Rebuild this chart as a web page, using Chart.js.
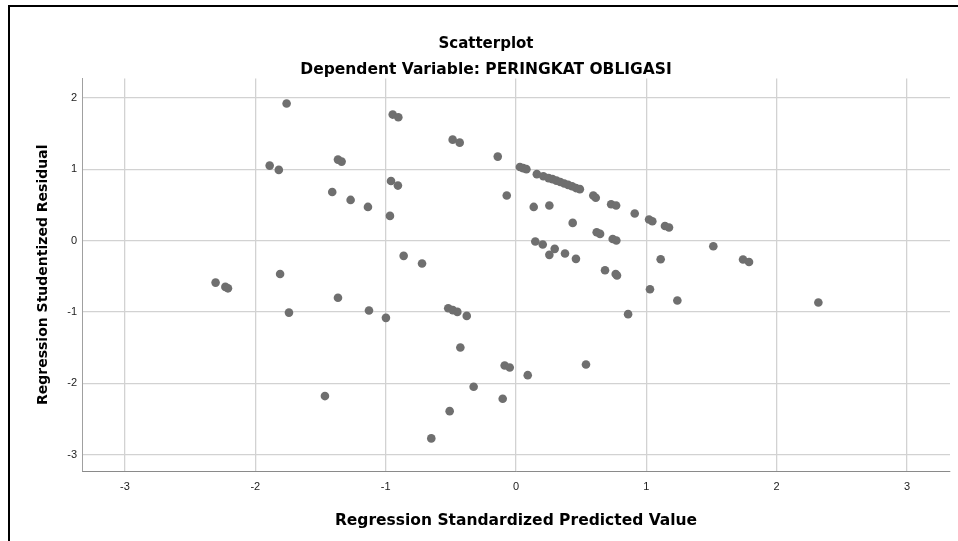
<!DOCTYPE html>
<html>
<head>
<meta charset="utf-8">
<script src="https://cdn.jsdelivr.net/npm/chart.js@4.4.1/dist/chart.umd.min.js"></script>
<style>
  html, body { margin: 0; padding: 0; background: #ffffff; overflow: hidden; }
  #wrap { position: relative; width: 958px; height: 541px; }
</style>
</head>
<body>
<div id="wrap"><canvas id="c" width="958" height="541"></canvas></div>
<script>
// ---- Data ----
const predicted = [
  -1.76, -1.89, -1.82, -1.81, -1.41, -2.305, -2.23, -2.21, -1.742, -1.466,
  -0.946, -0.903, -0.486, -0.432, -0.14, -1.366, -1.338, 0.03, 0.055, 0.08,
  0.16, 0.21, 0.25, 0.28, 0.31, 0.34, 0.37, 0.40, 0.43, 0.46,
  0.49, -0.959, -0.906, -1.269, -1.136, -0.967, -0.071, 0.136, 0.256, 0.435,
  0.593, 0.612, 0.73, 0.768, 0.911, 1.021, 1.046, 1.143, 1.174, 0.619,
  0.645, 0.742, 0.77, 0.148, 0.205, 0.297, 0.256, 0.376, 0.46, 0.683,
  0.765, 0.775, 1.514, 1.742, 1.788, 1.11, 1.028, 1.238, 0.86, 2.32,
  -0.862, -0.721, -1.366, -1.128, -0.998, -0.52, -0.485, -0.45, -0.378, -0.427,
  -0.087, -0.048, 0.09, 0.537, -0.325, -0.102, -0.509, -0.65
];
const residual = [
  1.92, 1.05, 0.99, -0.47, 0.68, -0.59, -0.65, -0.67, -1.01, -2.18,
  1.765, 1.727, 1.414, 1.372, 1.176, 1.134, 1.106, 1.03, 1.015, 1.0,
  0.93, 0.90, 0.875, 0.86, 0.84, 0.82, 0.80, 0.78, 0.76, 0.735,
  0.72, 0.835, 0.77, 0.569, 0.471, 0.345, 0.63, 0.471, 0.49, 0.247,
  0.63, 0.60, 0.508, 0.49, 0.378, 0.294, 0.27, 0.204, 0.182, 0.116,
  0.093, 0.022, 0.0, -0.014, -0.056, -0.117, -0.201, -0.182, -0.257, -0.416,
  -0.47, -0.49, -0.08, -0.266, -0.30, -0.262, -0.682, -0.84, -1.032, -0.869,
  -0.215, -0.322, -0.803, -0.98, -1.084, -0.95, -0.975, -1.0, -1.056, -1.499,
  -1.751, -1.779, -1.887, -1.737, -2.05, -2.218, -2.391, -2.773
];
const xTicks = [-3, -2, -1, 0, 1, 2, 3];
const yTicks = [-3, -2, -1, 0, 1, 2];
const chartTitle = 'Scatterplot';
const chartSubtitle = 'Dependent Variable: PERINGKAT OBLIGASI';
const xTitle = 'Regression Standardized Predicted Value';
const yTitle = 'Regression Studentized Residual';

const points = predicted.map((x, i) => ({ x: x, y: residual[i] }));

const framePlugin = {
  id: 'frame',
  beforeDraw(chart) {
    const ctx = chart.ctx;
    ctx.save();
    ctx.fillStyle = '#ffffff';
    ctx.fillRect(0, 0, chart.width, chart.height);
    ctx.fillStyle = '#000000';
    ctx.fillRect(8, 5, 2, chart.height - 5);
    ctx.fillRect(8, 5, chart.width - 8, 2);
    ctx.restore();
  }
};

const FONT = '"Liberation Sans", Arial, sans-serif';
const TFONT = '"DejaVu Sans", "Liberation Sans", Arial, sans-serif';

new Chart(document.getElementById('c'), {
  type: 'scatter',
  data: {
    datasets: [{
      data: points,
      backgroundColor: '#6f6f6f',
      borderWidth: 0,
      pointRadius: 4.3,
      pointHoverRadius: 4.3
    }]
  },
  options: {
    responsive: false,
    animation: false,
    devicePixelRatio: 1,
    layout: { padding: { left: 22, right: 8, top: 0, bottom: 0 } },
    plugins: {
      legend: { display: false },
      tooltip: { enabled: false },
      title: {
        display: true,
        text: chartTitle,
        color: '#000000',
        font: { family: TFONT, size: 15, weight: 'bold', lineHeight: 1.1 },
        padding: { top: 35.5, bottom: 9.2 }
      },
      subtitle: {
        display: true,
        text: chartSubtitle,
        color: '#000000',
        font: { family: TFONT, size: 15.5, weight: 'bold', lineHeight: 1.1 },
        padding: { top: 0, bottom: 0.3 }
      }
    },
    scales: {
      x: {
        type: 'linear',
        min: -3.33,
        max: 3.33,
        afterBuildTicks(scale) { scale.ticks = xTicks.map(v => ({ value: v })); },
        afterFit(scale) { scale.height = 70; },
        grid: { color: '#d2d2d2', lineWidth: 1.3, drawTicks: false },
        border: { color: '#8a8a8a', width: 1 },
        ticks: {
          color: '#222222',
          font: { family: FONT, size: 11 },
          padding: 9,
          maxRotation: 0,
          callback: v => String(v)
        },
        title: {
          display: true,
          text: xTitle,
          color: '#000000',
          font: { family: TFONT, size: 15.5, weight: 'bold', lineHeight: 1.2 },
          padding: { top: 0, bottom: 10.7 }
        }
      },
      y: {
        type: 'linear',
        min: -3.23,
        max: 2.27,
        afterBuildTicks(scale) { scale.ticks = yTicks.map(v => ({ value: v })); },
        afterFit(scale) { scale.width = 60; },
        grid: { color: '#d2d2d2', lineWidth: 1.3, drawTicks: false },
        border: { color: '#a0a0a0', width: 1 },
        ticks: {
          color: '#222222',
          font: { family: FONT, size: 11 },
          padding: 5,
          callback: v => String(v)
        },
        title: {
          display: true,
          text: yTitle,
          color: '#000000',
          font: { family: TFONT, size: 14, weight: 'bold', lineHeight: 1.2 },
          padding: { top: 12.6, bottom: 0 }
        }
      }
    }
  },
  plugins: [framePlugin]
});
</script>
</body>
</html>
